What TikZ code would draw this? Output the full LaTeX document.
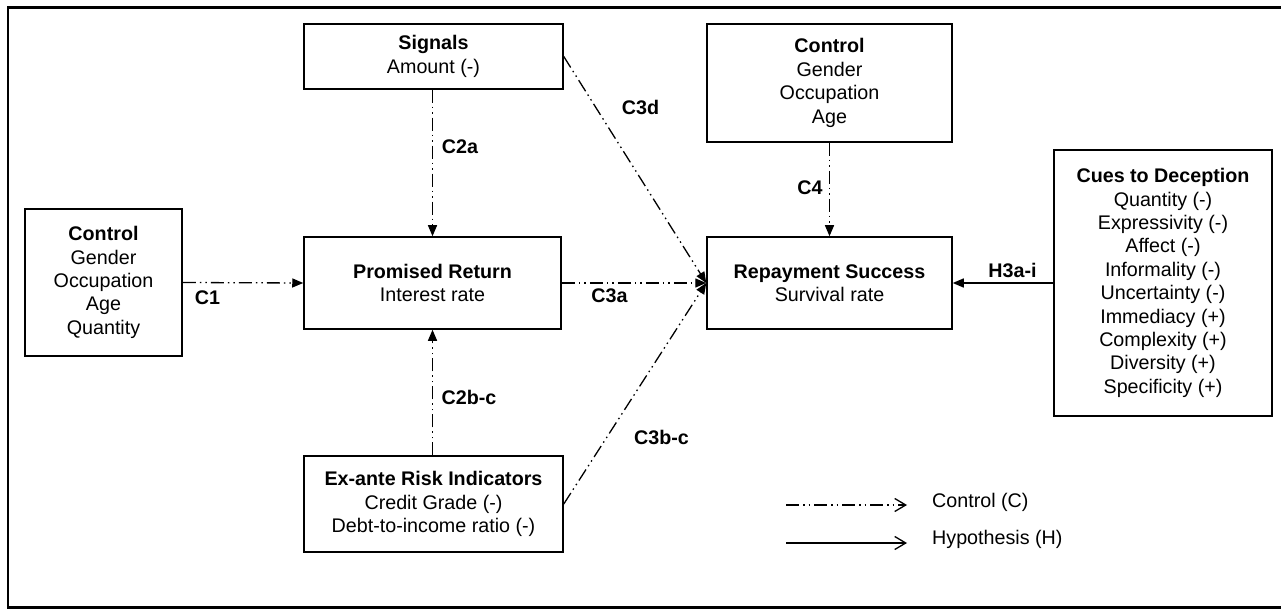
\documentclass[tikz,border=0pt]{standalone}
\usepackage{fontspec}
\setmainfont{Liberation Sans}
\usetikzlibrary{arrows.meta}
\tikzset{
  box/.style={draw, line width=1.5pt, inner sep=0pt, align=center,
    font=\fontsize{19.7}{23.4}\selectfont},
  ctrl/.style={line width=1.3pt,
    dash pattern=on 13pt off 4pt on 1.5pt off 4pt on 1.5pt off 4pt,
    -{Triangle[length=11pt,width=9pt]}},
  hyp/.style={line width=1.5pt, -{Triangle[length=11pt,width=9pt]}},
  lbl/.style={font=\bfseries\fontsize{19.7}{23.4}\selectfont, inner sep=0pt},
  legtext/.style={font=\fontsize{19.7}{23.4}\selectfont, inner sep=0pt, anchor=west},
  legctrl/.style={line width=1.3pt,
    dash pattern=on 13pt off 4pt on 1.5pt off 4pt on 1.5pt off 4pt,
    -{Straight Barb[length=11pt,width=13pt,line width=1.3pt]}},
  leghyp/.style={line width=1.5pt, -{Straight Barb[length=11pt,width=13pt,line width=1.3pt]}},
  frame/.style={line width=2.5pt}
}
\begin{document}
\begin{tikzpicture}[x=1pt,y=-1pt]
\useasboundingbox (0,0) rectangle (1281,609);
\draw[frame] (1283,7.5) -- (8,7.5) -- (8,607.5) -- (1283,607.5);

\node[box, minimum width=259pt, minimum height=65pt] (sig) at (433.5,56.5)
  {\textbf{Signals}\\Amount (-)};
\node[box, minimum width=257pt, minimum height=92pt] (pr) at (432.5,283)
  {\textbf{Promised Return}\\Interest rate};
\node[box, minimum width=157pt, minimum height=147pt] (ctlL) at (103.5,282.5)
  {\textbf{Control}\\Gender\\Occupation\\Age\\Quantity};
\node[box, minimum width=259pt, minimum height=96pt] (ex) at (433.5,504)
  {\textbf{Ex-ante Risk Indicators}\\Credit Grade (-)\\Debt-to-income ratio (-)};
\node[box, minimum width=245pt, minimum height=118pt] (ctlT) at (829.5,83)
  {\textbf{Control}\\Gender\\Occupation\\Age};
\node[box, minimum width=245pt, minimum height=92pt] (rep) at (829.5,283)
  {\textbf{Repayment Success}\\Survival rate};
\node[box, minimum width=218pt, minimum height=266pt] (cues) at (1163,283)
  {\textbf{Cues to Deception}\\Quantity (-)\\Expressivity (-)\\Affect (-)\\Informality (-)\\Uncertainty (-)\\Immediacy (+)\\Complexity (+)\\Diversity (+)\\Specificity (+)};

\draw[ctrl] (ctlL.east) -- (pr.west);
\draw[ctrl] (pr.north |- sig.south) -- (pr.north);
\draw[ctrl] (pr.south |- ex.north) -- (pr.south);
\draw[ctrl] (pr.east) -- (rep.west);
\draw[ctrl] (sig.east) -- (rep.west);
\draw[ctrl] (ex.east) -- (rep.west);
\draw[ctrl] (ctlT.south) -- (rep.north);
\draw[hyp] (cues.west) -- (rep.east);

\node[lbl] (lc1) at (207.5,298) {C1};
\node[lbl] (lc2a) at (460,147) {C2a};
\node[lbl] (lc2b) at (469,397) {C2b-c};
\node[lbl] (lc3a) at (609.5,296) {C3a};
\node[lbl] (lc3d) at (640.5,107) {C3d};
\node[lbl] (lc3b) at (661.5,437) {C3b-c};
\node[lbl] (lc4) at (810,188) {C4};
\node[lbl] (lh3) at (1012.5,270) {H3a-i};

\coordinate (l1s) at (786,505);
\coordinate (l1e) at (907,505);
\coordinate (l2s) at (786,543);
\coordinate (l2e) at (907,543);
\draw[legctrl] (l1s) -- (l1e);
\draw[leghyp] (l2s) -- (l2e);
\node[legtext] (tc) at (932,502) {Control (C)};
\node[legtext] (th) at (932,539) {Hypothesis (H)};
\end{tikzpicture}
\end{document}
